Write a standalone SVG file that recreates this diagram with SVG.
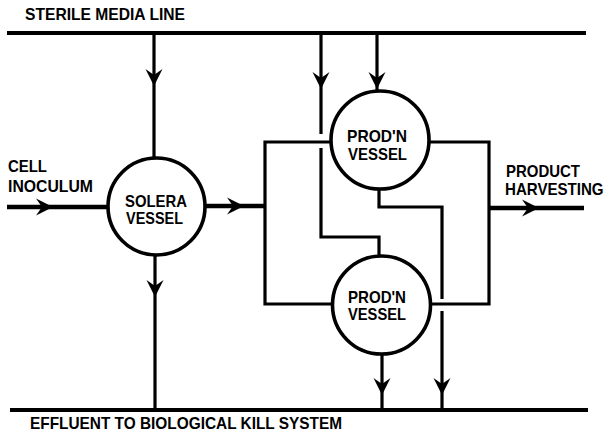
<svg xmlns="http://www.w3.org/2000/svg" xmlns:xlink="http://www.w3.org/1999/xlink" width="610" height="442" viewBox="0 0 610 442">
<style>
.t{font-family:"Liberation Sans",Arial,sans-serif;font-weight:bold;font-size:16.5px;fill:#000}
.main{stroke:#000;stroke-width:4;fill:none;stroke-linecap:butt}
.ln{stroke:#000;stroke-width:3.2;fill:none;stroke-linejoin:miter;stroke-linecap:butt}
.thick{stroke:#000;stroke-width:4.5;fill:none}
.vessel{fill:#fff;stroke:#000;stroke-width:3.6}
</style>
<defs>
<path id="ah" d="M0,0 L-8.5,-17 L0,-11 L8.5,-17 Z" fill="#000"/>
</defs>
<rect width="610" height="442" fill="#fff"/>
<g id="connectors">
<line class="main" x1="7" y1="33" x2="586" y2="33"/>
<line class="main" x1="10" y1="410" x2="588" y2="410"/>
<line class="ln" x1="154" y1="33" x2="154" y2="158"/>
<use xlink:href="#ah" transform="translate(154,86)"/>
<line class="ln" x1="155" y1="255" x2="155" y2="410"/>
<use xlink:href="#ah" transform="translate(155,297)"/>
<line class="thick" x1="7" y1="207" x2="108" y2="207"/>
<use xlink:href="#ah" transform="translate(53,207) rotate(-90)"/>
<line class="thick" x1="205" y1="206" x2="265" y2="206"/>
<use xlink:href="#ah" transform="translate(244,206) rotate(-90)"/>
<polyline class="ln" points="331,142 265,142 265,304 332,304"/>
<line class="ln" x1="321" y1="33" x2="321" y2="134"/>
<polyline class="ln" points="321,148 321,237 379,237 379,256"/>
<use xlink:href="#ah" transform="translate(321,89)"/>
<line class="ln" x1="377" y1="33" x2="377" y2="90"/>
<use xlink:href="#ah" transform="translate(377,89)"/>
<polyline class="ln" points="379,190 379,207 442,207 442,299"/>
<line class="ln" x1="442" y1="311" x2="442" y2="410"/>
<use xlink:href="#ah" transform="translate(442,395)"/>
<polyline class="ln" points="429,142 489,142 489,304 430,304"/>
<line class="thick" x1="489" y1="208" x2="584" y2="208"/>
<use xlink:href="#ah" transform="translate(539,208) rotate(-90)"/>
<line class="ln" x1="382" y1="354" x2="382" y2="410"/>
<use xlink:href="#ah" transform="translate(382,395)"/>
</g>
<g id="solera">
<circle class="vessel" cx="156.5" cy="206.5" r="48.5"/>
<text class="t" x="125" y="207" textLength="62" lengthAdjust="spacingAndGlyphs">SOLERA</text>
<text class="t" x="126" y="224" textLength="57" lengthAdjust="spacingAndGlyphs">VESSEL</text>
</g>
<g id="prod1">
<circle class="vessel" cx="380" cy="140" r="49"/>
<text class="t" x="347" y="142" textLength="60" lengthAdjust="spacingAndGlyphs">PROD'N</text>
<text class="t" x="348" y="160" textLength="59" lengthAdjust="spacingAndGlyphs">VESSEL</text>
</g>
<g id="prod2">
<circle class="vessel" cx="381.5" cy="305" r="49"/>
<text class="t" x="348" y="303" textLength="58" lengthAdjust="spacingAndGlyphs">PROD'N</text>
<text class="t" x="348" y="320" textLength="58" lengthAdjust="spacingAndGlyphs">VESSEL</text>
</g>
<g id="labels">
<text class="t" x="25" y="20" textLength="160" lengthAdjust="spacingAndGlyphs">STERILE MEDIA LINE</text>
<text class="t" x="8" y="172" textLength="39" lengthAdjust="spacingAndGlyphs">CELL</text>
<text class="t" x="8" y="192" textLength="85" lengthAdjust="spacingAndGlyphs">INOCULUM</text>
<text class="t" x="506" y="177" textLength="74" lengthAdjust="spacingAndGlyphs">PRODUCT</text>
<text class="t" x="0" y="0" transform="translate(505,195) scale(0.915,1)">HARVESTING</text>
<text class="t" x="30" y="429" textLength="312" lengthAdjust="spacingAndGlyphs">EFFLUENT TO BIOLOGICAL KILL SYSTEM</text>
</g>
</svg>
